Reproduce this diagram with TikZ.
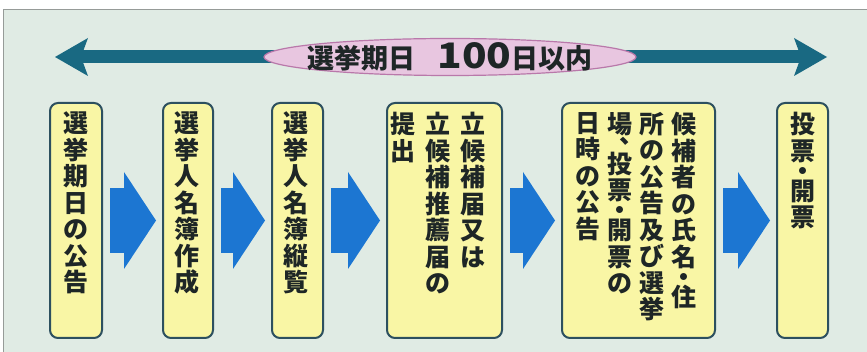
\documentclass[tikz,border=0pt]{standalone}
\usepackage{fontspec}
\newfontfamily\jp{Noto Sans CJK JP}
\usetikzlibrary{arrows.meta,shapes.geometric}
\definecolor{panelbg}{RGB}{224,235,228}
\definecolor{panelline}{RGB}{150,155,152}
\definecolor{tealarrow}{RGB}{25,105,130}
\definecolor{ellfill}{RGB}{232,198,224}
\definecolor{elldraw}{RGB}{185,120,170}
\definecolor{boxfill}{RGB}{249,246,165}
\definecolor{boxline}{RGB}{45,80,95}
\definecolor{arrowblue}{RGB}{28,118,210}
\definecolor{textcol}{RGB}{30,38,38}
\tikzset{
  stepbox/.style={draw=boxline, fill=boxfill, line width=2pt, rounded corners=8pt,
    minimum height=235pt, inner sep=0pt},
  vtext/.style={font=\jp\bfseries\fontsize{25}{26.5}\selectfont, align=center,
    inner sep=0pt, text=textcol, anchor=north},
  flowarrow/.style={draw=arrowblue, line width=65pt, shorten <=7pt, shorten >=6pt,
    -{Triangle[length=32pt,width=97pt,line width=0pt]}},
  spanarrow/.style={draw=tealarrow, line width=13pt,
    {Stealth[length=33pt,width=38pt,inset=7pt,line width=0pt]}-{Stealth[length=33pt,width=38pt,inset=7pt,line width=0pt]}}
}
\begin{document}
\begin{tikzpicture}[x=1pt,y=-1pt]
\useasboundingbox (0,0) rectangle (867,352);
\fill[white] (0,0) rectangle (867,352);
\fill[panelbg] (3,10) rectangle (867,352);
\draw[panelline, line width=1pt] (3,352) -- (3,10) -- (867,10);

% span arrow with ellipse label
\coordinate (L) at (55,57);
\coordinate (R) at (827,57);
\draw[spanarrow] (L) -- (R);
\node[ellipse, draw=elldraw, fill=ellfill, line width=1.2pt, minimum width=372pt, minimum height=37pt, inner sep=0pt] (period) at (450,57) {};
\node[font=\jp\bfseries\fontsize{27}{30}\selectfont, text=textcol, inner sep=0pt] (periodlabel) at (period.center) {選挙期日\hspace{22pt}\scalebox{1.5}[1.3]{100}日以内};

% step boxes
\node[stepbox, minimum width=52pt] (b1) at (76,220.5) {};
\node[stepbox, minimum width=50pt] (b2) at (188,220.5) {};
\node[stepbox, minimum width=51pt] (b3) at (297.5,220.5) {};
\node[stepbox, minimum width=115pt] (b4) at (444.5,220.5) {};
\node[stepbox, minimum width=153pt] (b5) at (638.5,220.5) {};
\node[stepbox, minimum width=51pt] (b6) at (802.5,220.5) {};

% texts
\node[vtext] (t1) at (76,112) {選\\挙\\期\\日\\の\\公\\告};
\node[vtext] (t2) at (187,112) {選\\挙\\人\\名\\簿\\作\\成};
\node[vtext] (t3) at (296,112) {選\\挙\\人\\名\\簿\\縦\\覧};
\node[vtext] (t4a) at (473,112) {立\\候\\補\\届\\又\\は};
\node[vtext] (t4b) at (438,112) {立\\候\\補\\推\\薦\\届\\の};
\node[vtext] (t4c) at (403,112) {提\\出};
\node[vtext] (t5a) at (684,112) {候\\補\\者\\の\\氏\\名\\[-6.5pt]・\\[-6.5pt]住};
\node[vtext] (t5b) at (652,112) {所\\の\\公\\告\\及\\び\\選\\挙};
\node[vtext] (t5c) at (620,112) {場\\[-6.5pt]\mbox{}\\[-6.5pt]投\\票\\[-6.5pt]・\\[-6.5pt]開\\票\\の};
\node[font=\jp\bfseries\fontsize{25}{25}\selectfont, text=textcol, inner sep=0pt] (comma) at (632,141.5) {、};
\node[vtext] (t5d) at (588,112) {日\\時\\の\\公\\告};
\node[vtext] (t6) at (802.5,112) {投\\票\\[-6.5pt]・\\[-6.5pt]開\\票};

% flow arrows
\draw[flowarrow] (b1) -- (b2);
\draw[flowarrow] (b2) -- (b3);
\draw[flowarrow] (b3) -- (b4);
\draw[flowarrow] (b4) -- (b5);
\draw[flowarrow] (b5) -- (b6);
\end{tikzpicture}
\end{document}
